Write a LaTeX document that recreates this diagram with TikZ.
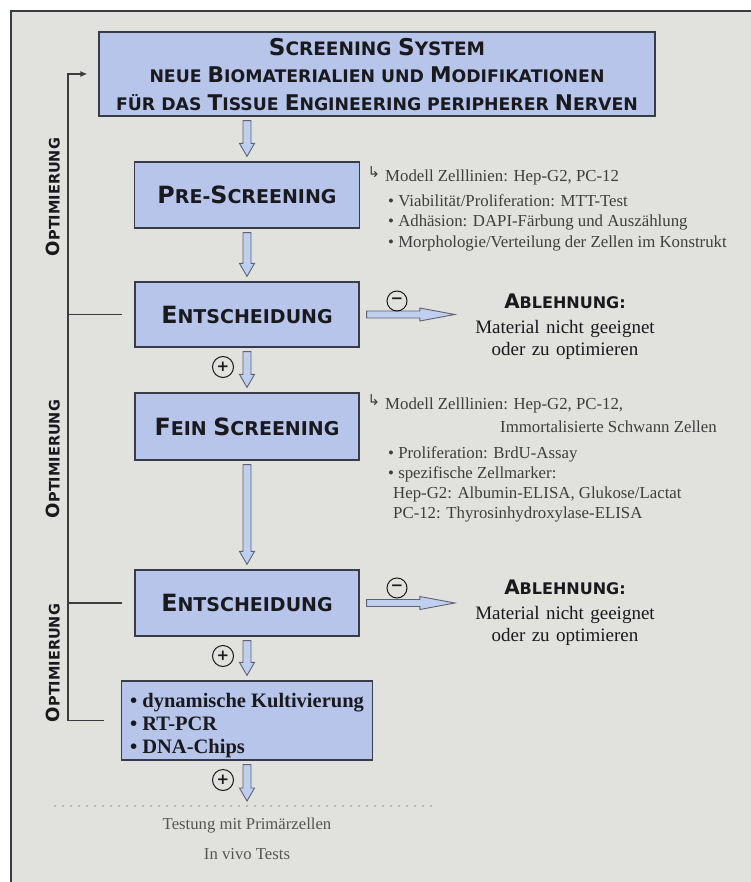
\documentclass[tikz,border=0pt]{standalone}
\usepackage{fontspec}
\setmainfont{Liberation Serif}
\newfontfamily\kopffont{DejaVu Sans}
\usepackage{xcolor}
\usetikzlibrary{arrows.meta,positioning,calc}
\definecolor{grundgrau}{RGB}{225,225,221}
\definecolor{kastenblau}{RGB}{182,197,233}
\definecolor{pfeilblau}{RGB}{192,206,240}
\definecolor{randgrau}{RGB}{55,60,72}
\definecolor{schrift}{RGB}{25,25,30}
\definecolor{notiz}{RGB}{62,62,62}
\definecolor{fussgrau}{RGB}{85,85,85}

% grosse Anfangsbuchstaben fuer die Kapitaelchen
\newcommand{\Gross}[1]{\scalebox{1.25}{#1}}

% hohler Blockpfeil nach unten, x vom Ziel
\newcommand{\vpfeil}[2]{%
  \draw[blockpfeil] let \p1=(#1), \p2=(#2) in
    (\x2-4pt,\y1-4pt) -- (\x2-4pt,\y2+18pt) -- (\x2-7.5pt,\y2+18pt) -- (\x2,\y2+5pt)
    -- (\x2+7.5pt,\y2+18pt) -- (\x2+4pt,\y2+18pt) -- (\x2+4pt,\y1-4pt) -- cycle;}

% hohler Blockpfeil nach rechts, y von der Quelle
\newcommand{\hpfeil}[2]{%
  \draw[blockpfeil] let \p1=(#1), \p2=(#2) in
    (\x1+7pt,\y1+3.5pt) -- (\x2-45pt,\y1+3.5pt) -- (\x2-45pt,\y1+6.5pt) -- (\x2-10pt,\y1)
    -- (\x2-45pt,\y1-6.5pt) -- (\x2-45pt,\y1-3.5pt) -- (\x1+7pt,\y1-3.5pt) -- cycle;}

\begin{document}
\begin{tikzpicture}[x=1pt,y=-1pt,
    kasten/.style={draw=randgrau, fill=kastenblau, line width=1.2pt, inner sep=0pt, text=schrift},
    stufe/.style={kasten, minimum width=224pt, minimum height=66pt,
      font=\kopffont\bfseries\fontsize{19}{22}\selectfont},
    blockpfeil/.style={draw=randgrau!80, fill=pfeilblau, line width=0.9pt, line join=miter},
    zeichen/.style={circle, draw=schrift, line width=1pt, minimum size=21pt, inner sep=0pt,
      text=schrift, font=\kopffont\bfseries\fontsize{15}{15}\selectfont},
    absage/.style={text width=200pt, align=center, inner sep=0pt, text=schrift,
      font=\fontsize{19}{22.5}\selectfont},
    notizblock/.style={anchor=north west, align=left, inner sep=0pt, text=notiz,
      font=\fontsize{16.8}{20.3}\selectfont},
    haken/.style={inner sep=0pt, text=notiz, font=\kopffont\fontsize{15}{15}\selectfont},
    optlabel/.style={rotate=90, inner sep=0pt, text=schrift,
      font=\kopffont\bfseries\fontsize{14.5}{14.5}\selectfont},
    rueckfuehrung/.style={draw=schrift!85, line width=1.3pt},
    punktlinie/.style={draw=black!45, line width=1.6pt, line cap=round, dash pattern=on 0pt off 8pt},
    fusstext/.style={inner sep=0pt, text=fussgrau, font=\fontsize{16.7}{20}\selectfont}]

  \useasboundingbox (0,0) rectangle (751,882);
  \fill[white] (0,0) rectangle (751,882);
  \fill[grundgrau] (11,11) rectangle (751,882);
  \draw[randgrau, line width=1.5pt] (11,882) -- (11,11) -- (751,11);

  % Kaesten
  \node[kasten, minimum width=556pt, minimum height=84pt, align=center,
    font=\kopffont\bfseries\fontsize{17.3}{27.5}\selectfont] (system) at (377,74)
    {\rule{0pt}{18pt}{\fontsize{18.5}{27.5}\selectfont\Gross{S}CREENING \Gross{S}YSTEM}\\
     NEUE \Gross{B}IOMATERIALIEN UND \Gross{M}ODIFIKATIONEN\\
     FÜR DAS \Gross{T}ISSUE \Gross{E}NGINEERING PERIPHERER \Gross{N}ERVEN};
  \node[stufe, minimum width=225pt] (pre) at (247,195) {\Gross{P}RE-\Gross{S}CREENING};
  \node[stufe, minimum height=65pt] (ent1) at (247,314.5) {\Gross{E}NTSCHEIDUNG};
  \node[stufe, minimum height=67pt] (fein) at (247,426.5) {\Gross{F}EIN \Gross{S}CREENING};
  \node[stufe] (ent2) at (247,603) {\Gross{E}NTSCHEIDUNG};
  \node[kasten, minimum width=251pt, minimum height=79pt, align=left,
    font=\bfseries\fontsize{20.5}{23}\selectfont] (kult) at (247,720.5)
    {\rule{0pt}{25pt}• dynamische Kultivierung\\• RT-PCR\\• DNA-Chips};

  % Ablehnung
  \node[absage] (abl1) at (565,327)
    {{\kopffont\bfseries\fontsize{16}{16}\selectfont\Gross{A}BLEHNUNG:}\\[2pt]
     Material nicht geeignet\\oder zu optimieren};
  \node[absage] (abl2) at (565,613)
    {{\kopffont\bfseries\fontsize{16}{16}\selectfont\Gross{A}BLEHNUNG:}\\[2pt]
     Material nicht geeignet\\oder zu optimieren};

  % Pfeile
  \vpfeil{system.south}{pre.north}
  \vpfeil{pre.south}{ent1.north}
  \vpfeil{ent1.south}{fein.north}
  \vpfeil{fein.south}{ent2.north}
  \vpfeil{ent2.south}{kult.north}
  \coordinate (ende) at (247,806);
  \vpfeil{kult.south}{ende}
  \hpfeil{ent1.east}{abl1.west}
  \hpfeil{ent2.east}{abl2.west}

  \node[zeichen] (plus1) at (223,367) {+};
  \node[zeichen] (plus2) at (223,656) {+};
  \node[zeichen] (plus3) at (223,780) {+};
  \node[zeichen, minimum size=20pt] (minus1) at (397,301) {−};
  \node[zeichen, minimum size=20pt] (minus2) at (397,588) {−};

  % Notizen rechts
  \node[haken] (haken1) at (374,172) {↳};
  \node[notizblock] (pretext) at (385,169.5)
    {Modell Zelllinien: Hep-G2, PC-12\\[5pt]
     \hspace*{3pt}• Viabilität/Proliferation: MTT-Test\\
     \hspace*{3pt}• Adhäsion: DAPI-Färbung und Auszählung\\
     \hspace*{3pt}• Morphologie/Verteilung der Zellen im Konstrukt};
  \node[haken] (haken2) at (374,400) {↳};
  \node[notizblock] (feintext) at (385,398)
    {Modell Zelllinien: Hep-G2, PC-12,\\[2pt]
     \hspace*{115pt}Immortalisierte Schwann Zellen\\[6pt]
     \hspace*{3pt}• Proliferation: BrdU-Assay\\
     \hspace*{3pt}• spezifische Zellmarker:\\[-1pt]
     \hspace*{8pt}Hep-G2: Albumin-ELISA, Glukose/Lactat\\
     \hspace*{8pt}PC-12: Thyrosinhydroxylase-ELISA};

  % Optimierung
  \coordinate (schiene) at (68,0);
  \draw[rueckfuehrung, -{Latex[length=7pt,width=6pt]}] ($(kult.west)+(-17,0)$) -- (kult.west -| schiene)
    -- (system.west -| schiene) -- ($(system.west)+(-11,0)$);
  \draw[rueckfuehrung] ($(ent1.west)+(-12,0)$) -- (ent1.west -| schiene);
  \draw[rueckfuehrung] ($(ent2.west)+(-12,0)$) -- (ent2.west -| schiene);
  \node[optlabel] (opt1) at (53,197) {\Gross{O}PTIMIERUNG};
  \node[optlabel] (opt2) at (53,459) {\Gross{O}PTIMIERUNG};
  \node[optlabel] (opt3) at (53,663) {\Gross{O}PTIMIERUNG};

  % Ausblick
  \coordinate (punktL) at (55,806);
  \coordinate (punktR) at (435,806);
  \draw[punktlinie] (punktL) -- (punktR);
  \node[fusstext] (primaer) at (247,825) {Testung mit Primärzellen};
  \node[fusstext] (invivo) at (247,854) {In vivo Tests};

\end{tikzpicture}
\end{document}
